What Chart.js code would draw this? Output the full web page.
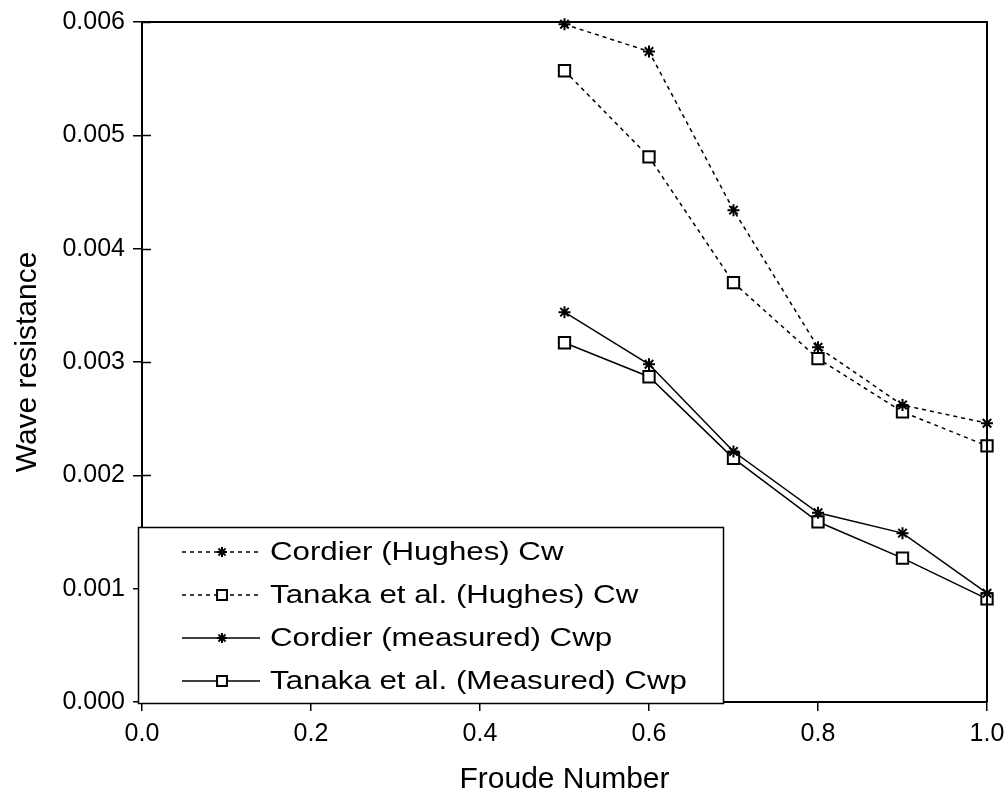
<!DOCTYPE html>
<html>
<head>
<meta charset="utf-8">
<script src="https://cdn.jsdelivr.net/npm/chart.js@4/dist/chart.umd.min.js"></script>
<style>
  html, body { margin: 0; padding: 0; background: #fff; }
  #wrap { width: 1006px; height: 800px; }
</style>
</head>
<body>
<div id="wrap"><canvas id="chart" width="1006" height="800"></canvas></div>
<script>
const froude = [0.5, 0.6, 0.7, 0.8, 0.9, 1.0];
const cordierHughes = [0.00598, 0.00574, 0.00434, 0.00313, 0.00262, 0.00246];
const tanakaHughes = [0.00557, 0.00481, 0.00370, 0.00303, 0.00256, 0.00226];
const cordierMeasured = [0.00344, 0.00298, 0.00221, 0.00167, 0.00149, 0.00096];
const tanakaMeasured = [0.00317, 0.00287, 0.00215, 0.00159, 0.00127, 0.00091];
const seriesNames = [
  "Cordier (Hughes) Cw",
  "Tanaka et al. (Hughes) Cw",
  "Cordier (measured) Cwp",
  "Tanaka et al. (Measured) Cwp"
];
const xTicks = [0.0, 0.2, 0.4, 0.6, 0.8, 1.0];
const yTicks = [0.000, 0.001, 0.002, 0.003, 0.004, 0.005, 0.006];

const FONT = "'Liberation Sans', Arial, sans-serif";

function toPoints(values) {
  return froude.map((x, i) => ({ x: x, y: values[i] }));
}

function makeSet(label, values, dashed, style) {
  return {
    label: label,
    data: toPoints(values),
    borderColor: "#000",
    borderWidth: 1.5,
    borderDash: dashed ? [4, 4] : [],
    pointStyle: style,
    pointRadius: style === "rect" ? 8 : 6,
    pointBorderWidth: 2,
    pointBorderColor: "#000",
    pointBackgroundColor: "#fff",
    tension: 0,
    fill: false,
    clip: false
  };
}

// frame on top/right + inner half of ticks
const framePlugin = {
  id: "frame",
  afterDraw(chart) {
    const ctx = chart.ctx;
    const a = chart.chartArea;
    const ys = chart.scales.y;
    ctx.save();
    ctx.strokeStyle = "#000";
    ctx.lineWidth = 2;
    ctx.beginPath();
    ctx.moveTo(a.left, a.top);
    ctx.lineTo(a.right, a.top);
    ctx.lineTo(a.right, a.bottom);
    ctx.stroke();
    ctx.lineWidth = 1.5;
    yTicks.forEach((v) => {
      const py = Math.round(ys.getPixelForValue(v)) + 0.5;
      ctx.beginPath();
      ctx.moveTo(a.left, py);
      ctx.lineTo(a.left + 9, py);
      ctx.stroke();
    });
    ctx.restore();
  }
};

// legend box inside the plot, lower left
const boxLegend = {
  id: "boxLegend",
  afterDraw(chart) {
    const ctx = chart.ctx;
    const left = 138, top = 527, right = 723, bottom = 703;
    ctx.save();
    ctx.fillStyle = "#fff";
    ctx.fillRect(left, top, right - left, bottom - top);
    ctx.strokeStyle = "#000";
    ctx.lineWidth = 1.5;
    ctx.strokeRect(left + 0.5, top + 0.5, right - left, bottom - top);
    const rowY = [552, 595, 638, 681];
    chart.data.datasets.forEach((ds, i) => {
      const y = rowY[i];
      ctx.strokeStyle = "#000";
      ctx.lineWidth = 1.5;
      ctx.setLineDash(ds.borderDash.length ? [4, 4] : []);
      ctx.beginPath();
      ctx.moveTo(182, y);
      ctx.lineTo(260, y);
      ctx.stroke();
      ctx.setLineDash([]);
      ctx.fillStyle = "#fff";
      ctx.lineWidth = 2;
      Chart.helpers.drawPoint(ctx, {
        pointStyle: ds.pointStyle,
        radius: ds.pointStyle === "rect" ? 7 : 5,
        rotation: 0,
        borderWidth: 2
      }, 222, y);
      // the original font is wide, so stretch the text a bit
      ctx.save();
      ctx.translate(270, y + 1);
      ctx.scale(1.25, 1);
      ctx.fillStyle = "#000";
      ctx.font = "25px " + FONT;
      ctx.textBaseline = "middle";
      ctx.fillText(ds.label, 0, 0);
      ctx.restore();
    });
    ctx.restore();
  }
};

new Chart(document.getElementById("chart"), {
  type: "line",
  data: {
    datasets: [
      makeSet(seriesNames[0], cordierHughes, true, "star"),
      makeSet(seriesNames[1], tanakaHughes, true, "rect"),
      makeSet(seriesNames[2], cordierMeasured, false, "star"),
      makeSet(seriesNames[3], tanakaMeasured, false, "rect")
    ]
  },
  options: {
    responsive: false,
    animation: false,
    layout: { padding: { top: 22, right: 19, left: 0, bottom: 0 } },
    plugins: {
      legend: { display: false },
      tooltip: { enabled: false }
    },
    scales: {
      x: {
        type: "linear",
        min: 0,
        max: 1,
        afterBuildTicks(scale) {
          scale.ticks = xTicks.map((v) => ({ value: v }));
        },
        afterFit(scale) {
          scale.height = 98;
          scale.paddingLeft = 0;
          scale.paddingRight = 0;
        },
        grid: { drawOnChartArea: false, drawTicks: true, tickLength: 9, color: "#000", lineWidth: 1.5 },
        border: { display: true, color: "#000", width: 2 },
        ticks: {
          color: "#000",
          padding: 8,
          font: { family: FONT, size: 25 },
          callback: (v) => Number(v).toFixed(1)
        },
        title: {
          display: true,
          text: "Froude Number",
          color: "#000",
          font: { family: FONT, size: 30 },
          padding: { top: 8, bottom: 2 }
        }
      },
      y: {
        type: "linear",
        min: 0,
        max: 0.006,
        afterBuildTicks(scale) {
          scale.ticks = yTicks.map((v) => ({ value: v }));
        },
        afterFit(scale) {
          scale.width = 142;
          scale.paddingTop = 0;
          scale.paddingBottom = 0;
        },
        grid: { drawOnChartArea: false, drawTicks: true, tickLength: 9, color: "#000", lineWidth: 1.5 },
        border: { display: true, color: "#000", width: 2 },
        ticks: {
          color: "#000",
          padding: 8,
          font: { family: FONT, size: 25 },
          callback: (v) => Number(v).toFixed(3)
        },
        title: {
          display: true,
          text: "Wave resistance",
          color: "#000",
          font: { family: FONT, size: 30 },
          padding: { top: 10, bottom: 0 }
        }
      }
    }
  },
  plugins: [framePlugin, boxLegend]
});
</script>
</body>
</html>
